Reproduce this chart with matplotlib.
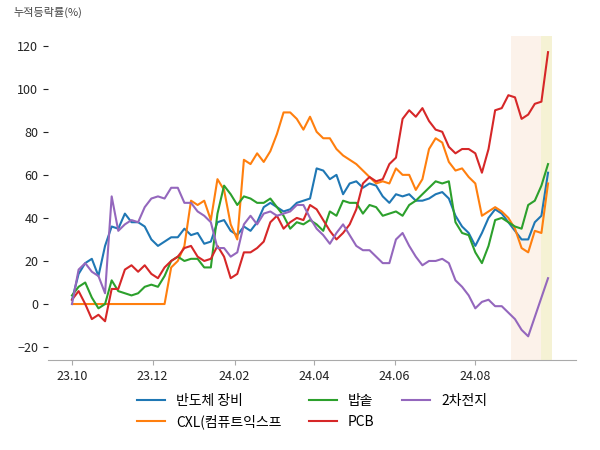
#!/usr/bin/env python

import pandas as pd
import matplotlib
matplotlib.use("Agg")
import matplotlib.pyplot as plt
import matplotlib.dates as mdates

plt.rcParams['font.family'] = ['Noto Sans CJK KR', 'DejaVu Sans']

# sampled every 5 days from 2023-10-01
dates = pd.date_range("2023-10-01", periods=73, freq="5D")
tick_dates = pd.to_datetime(["2023-10-01", "2023-12-01", "2024-02-01",
                             "2024-04-01", "2024-06-01", "2024-08-01"])

names = ["반도체 장비", "CXL(컴퓨트익스프", "밥솥", "PCB", "2차전지"]

semi_equip = [2, 14, 19, 21, 13, 27, 36, 35, 42, 38, 38, 36, 30, 27, 29, 31, 31, 35, 32, 33,
              28, 29, 38, 39, 34, 32, 36, 34, 38, 45, 47, 45, 43, 44, 47, 48, 49, 63, 62, 58,
              60, 51, 56, 57, 54, 56, 55, 50, 47, 51, 50, 51, 48, 48, 49, 51, 52, 49, 41, 36,
              33, 27, 33, 40, 44, 42, 38, 34, 30, 30, 38, 41, 61]
cxl = [0, 0, 0, 0, 0, 0, 0, 0, 0, 0, 0, 0, 0, 0, 0, 17, 20, 27, 48, 46,
       48, 39, 58, 53, 37, 30, 67, 65, 70, 66, 71, 79, 89, 89, 86, 81, 87, 80, 77, 77,
       72, 69, 67, 65, 62, 59, 56, 57, 56, 63, 60, 60, 53, 58, 72, 77, 75, 66, 62, 63,
       59, 56, 41, 43, 45, 43, 40, 35, 26, 24, 34, 33, 56]
rice_cooker = [4, 8, 10, 3, -2, 0, 11, 6, 5, 4, 5, 8, 9, 8, 13, 20, 22, 20, 21, 21,
               17, 17, 42, 55, 51, 46, 50, 49, 47, 47, 49, 45, 41, 35, 38, 37, 39, 37, 34, 43,
               41, 48, 47, 47, 42, 46, 45, 41, 42, 43, 41, 46, 48, 51, 54, 57, 56, 57, 38, 33,
               32, 24, 19, 27, 39, 40, 38, 36, 35, 46, 48, 55, 65]
pcb = [2, 6, 0, -7, -5, -8, 7, 7, 16, 18, 15, 18, 14, 12, 17, 20, 22, 26, 27, 22,
       20, 21, 27, 22, 12, 14, 24, 24, 26, 29, 38, 41, 35, 38, 40, 39, 46, 44, 39, 34,
       30, 33, 37, 44, 56, 59, 57, 58, 65, 68, 86, 90, 87, 91, 85, 81, 80, 73, 70, 72,
       72, 70, 61, 72, 90, 91, 97, 96, 86, 88, 93, 94, 117]
battery = [0, 16, 19, 15, 13, 5, 50, 34, 37, 39, 38, 45, 49, 50, 49, 54, 54, 47, 47, 43,
           41, 38, 26, 26, 22, 24, 37, 41, 37, 42, 43, 41, 42, 43, 46, 46, 40, 35, 32, 28,
           33, 37, 32, 27, 25, 25, 22, 19, 19, 30, 33, 27, 22, 18, 20, 20, 21, 19, 11, 8,
           4, -2, 1, 2, -1, -1, -4, -7, -12, -15, -6, 3, 12]

series = [semi_equip, cxl, rice_cooker, pcb, battery]
colors = ["#1f77b4", "#ff7f0e", "#2ca02c", "#d62728", "#9467bd"]

fig = plt.figure(figsize=(6, 4.5), dpi=100)
ax = fig.add_axes([0.08, 0.2, 0.88, 0.72])

ax.axvspan(pd.Timestamp("2024-08-28"), pd.Timestamp("2024-09-20"), color="#fcf2ea", lw=0, zorder=0)
ax.axvspan(pd.Timestamp("2024-09-20"), pd.Timestamp("2024-09-28"), color="#f5f2d4", lw=0, zorder=0)

for name, vals, c in zip(names, series, colors):
    ax.plot(dates, vals, color=c, lw=1.5, label=name)

ax.set_ylim(-26, 124.5)
ax.set_yticks([-20, 0, 20, 40, 60, 80, 100, 120])
ax.set_xticks(tick_dates)
ax.xaxis.set_major_formatter(mdates.DateFormatter("%y.%m"))

for s in ["left", "top", "right"]:
    ax.spines[s].set_visible(False)
ax.spines["bottom"].set_color("#aaaaaa")
ax.tick_params(axis="x", colors="#aaaaaa", labelcolor="#222222", labelsize=9)
ax.tick_params(axis="y", colors="#222222", labelsize=9)

fig.text(0.022, 0.973, "누적등락률(%)", fontsize=8, color="#444444", va="center")

ax.legend(loc="upper center", bbox_to_anchor=(0.5, -0.065), ncol=3, frameon=False, fontsize=10)

plt.savefig("out.png")
